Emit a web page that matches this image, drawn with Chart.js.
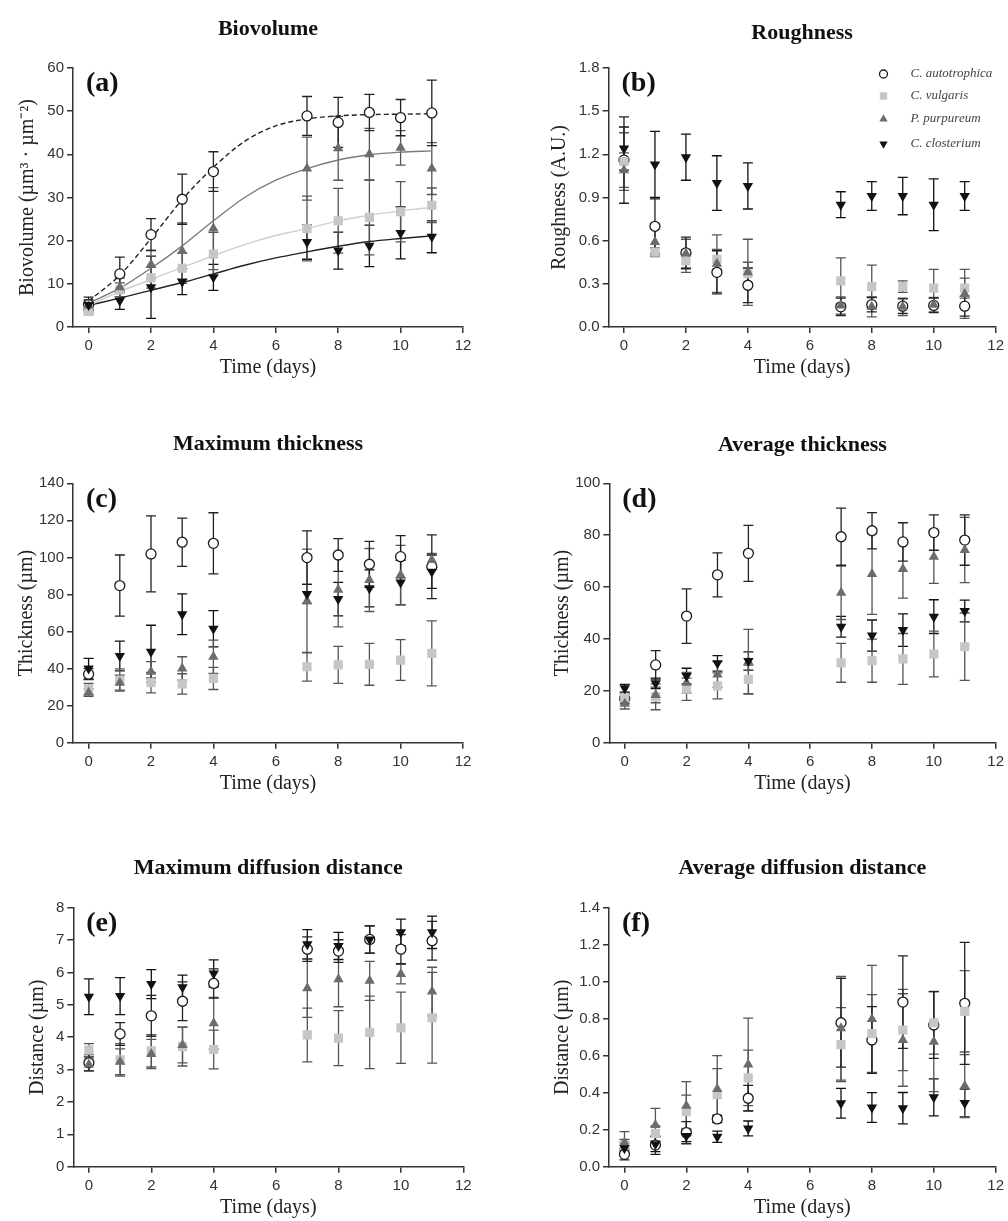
<!DOCTYPE html>
<html><head><meta charset="utf-8">
<script src="https://cdn.jsdelivr.net/npm/chart.js@4.4.1/dist/chart.umd.min.js"></script>
<style>
html,body{margin:0;padding:0;background:#fff;width:1008px;height:1221px;overflow:hidden}
canvas{position:absolute;display:block}
</style></head><body>
<canvas id="pa" width="504" height="400" style="left:0px;top:0px"></canvas>
<canvas id="pb" width="504" height="400" style="left:504px;top:0px"></canvas>
<canvas id="pc" width="504" height="420" style="left:0px;top:400px"></canvas>
<canvas id="pd" width="504" height="420" style="left:504px;top:400px"></canvas>
<canvas id="pe" width="504" height="401" style="left:0px;top:820px"></canvas>
<canvas id="pf" width="504" height="401" style="left:504px;top:820px"></canvas>
<script>
// ---------- data ----------
const days = [0, 1, 2, 3, 4, 7, 8, 9, 10, 11];
const fitDays = [0, 1, 2, 3, 4, 5, 6, 7, 8, 9, 10, 11];
const species = ['C. autotrophica', 'C. vulgaris', 'P. purpureum', 'C. closterium'];
const xTicks = [0, 2, 4, 6, 8, 10, 12];

// (a) Biovolume
const bioAuto = [5.2, 12.3, 21.4, 29.6, 36.0, 48.9, 47.4, 49.7, 48.5, 49.6];
const bioAutoErr = [1.7, 3.9, 3.7, 5.8, 4.6, 4.5, 5.8, 4.2, 4.2, 7.6];
const bioVulg = [3.6, 8.6, 11.4, 13.6, 16.9, 22.8, 24.6, 25.4, 26.7, 28.2];
const bioVulgErr = [0.6, 1.6, 2.4, 3.5, 5.0, 7.5, 7.5, 8.7, 7.0, 4.0];
const bioPurp = [5.0, 9.2, 14.5, 17.6, 22.8, 36.7, 41.4, 40.0, 41.5, 36.7];
const bioPurpErr = [1.0, 2.2, 3.3, 6.5, 9.5, 7.3, 7.4, 6.0, 4.0, 6.0];
const bioClos = [5.1, 6.1, 9.2, 10.5, 11.5, 19.7, 17.7, 18.8, 21.8, 20.9];
const bioClosErr = [1.2, 2.0, 7.2, 3.0, 3.0, 4.0, 4.3, 4.8, 6.0, 3.7];
// fitted curves of (a) at whole days
const fitAuto = [6.0, 12.0, 20.5, 29.5, 37.0, 43.0, 46.6, 48.2, 48.9, 49.2, 49.3, 49.4];
const fitVulg = [5.0, 8.2, 11.0, 13.8, 16.5, 19.1, 21.2, 22.8, 24.6, 25.9, 26.9, 27.7];
const fitPurp = [5.5, 9.0, 13.6, 18.8, 24.6, 30.0, 34.0, 36.7, 38.7, 39.9, 40.5, 40.8];
const fitClos = [5.0, 6.7, 8.5, 10.3, 12.3, 14.3, 16.0, 17.4, 18.7, 19.8, 20.5, 21.1];
const yTicksA = [0, 10, 20, 30, 40, 50, 60];

// (b) Roughness
const rouAuto = [1.16, 0.70, 0.515, 0.38, 0.29, 0.14, 0.155, 0.145, 0.15, 0.145];
const rouAutoErr = [0.3, 0.19, 0.11, 0.15, 0.12, 0.06, 0.05, 0.05, 0.05, 0.07];
const rouVulg = [1.15, 0.52, 0.46, 0.47, 0.37, 0.32, 0.28, 0.28, 0.27, 0.27];
const rouVulgErr = [0.2, 0.03, 0.08, 0.07, 0.08, 0.16, 0.15, 0.04, 0.13, 0.07];
const rouPurp = [1.09, 0.59, 0.51, 0.44, 0.38, 0.15, 0.14, 0.14, 0.155, 0.23];
const rouPurpErr = [0.12, 0.09, 0.1, 0.2, 0.23, 0.06, 0.07, 0.06, 0.05, 0.17];
const rouClos = [1.24, 1.13, 1.18, 1.0, 0.98, 0.85, 0.91, 0.91, 0.85, 0.91];
const rouClosErr = [0.15, 0.23, 0.16, 0.19, 0.16, 0.09, 0.1, 0.13, 0.18, 0.1];
const yTicksB = [0, 0.3, 0.6, 0.9, 1.2, 1.5, 1.8];

// (c) Maximum thickness
const maxAuto = [37, 84.8, 101.9, 108.2, 107.6, 99.9, 101.3, 96.3, 100.4, 95];
const maxAutoErr = [3, 16.5, 20.5, 13, 16.5, 14.4, 8.8, 12.4, 11.4, 17.2];
const maxVulg = [29, 33.8, 32.4, 31.7, 34.7, 41, 42, 42.3, 44.6, 48.2];
const maxVulgErr = [3, 6, 5.5, 5.5, 6, 7.8, 10, 11.3, 11, 17.5];
const maxPurp = [27, 32.4, 38.3, 40.1, 46.4, 76.5, 82.5, 87.8, 90.5, 98.6];
const maxPurpErr = [2, 4, 5.5, 6.3, 9, 28, 20, 17, 16, 3.5];
const maxClos = [40, 46.8, 49.1, 69.3, 61.5, 80.3, 77.5, 83.3, 86.4, 92.3];
const maxClosErr = [5.5, 8, 14.3, 11, 9.8, 5.2, 9, 10, 12, 9];
const yTicksC = [0, 20, 40, 60, 80, 100, 120, 140];

// (d) Average thickness
const avgAuto = [17, 30, 48.8, 64.7, 73, 79.4, 81.7, 77.4, 81, 78.1];
const avgAutoErr = [2, 5.5, 10.5, 8.5, 10.8, 11, 7, 7.4, 6.8, 9.7];
const avgVulg = [17.4, 17.7, 20.6, 21.9, 24.4, 30.8, 31.6, 32.3, 34.2, 37];
const avgVulgErr = [1.5, 5, 4.3, 5, 5.5, 7.5, 8.3, 9.8, 8.8, 13];
const avgPurp = [15, 18.4, 23.1, 26.3, 31.2, 57.8, 65, 67, 71.7, 74.3];
const avgPurpErr = [2, 3, 4, 5, 12.5, 10.3, 15.5, 11.3, 10.3, 12.6];
const avgClos = [21, 22.9, 25.7, 30.6, 31.5, 44.7, 41.3, 43.4, 48.6, 50.8];
const avgClosErr = [1.5, 2, 3, 3, 3.5, 4, 6, 6.3, 6.5, 4.2];
const yTicksD = [0, 20, 40, 60, 80, 100];

// (e) Maximum diffusion distance
const mddAuto = [3.21, 4.1, 4.66, 5.11, 5.66, 6.72, 6.66, 7.02, 6.72, 6.98];
const mddAutoErr = [0.25, 0.35, 0.63, 0.6, 0.45, 0.38, 0.35, 0.42, 0.45, 0.6];
const mddVulg = [3.6, 3.3, 3.58, 3.71, 3.62, 4.07, 3.97, 4.15, 4.29, 4.6];
const mddVulgErr = [0.2, 0.5, 0.5, 0.6, 0.6, 0.83, 0.85, 1.12, 1.1, 1.4];
const mddPurp = [3.16, 3.24, 3.48, 3.76, 4.43, 5.51, 5.79, 5.74, 5.95, 5.41];
const mddPurpErr = [0.2, 0.4, 0.45, 0.55, 0.8, 0.9, 0.85, 0.6, 0.3, 0.75];
const mddClos = [5.25, 5.27, 5.64, 5.54, 5.97, 6.87, 6.82, 7.02, 7.24, 7.24];
const mddClosErr = [0.55, 0.57, 0.45, 0.38, 0.42, 0.45, 0.42, 0.42, 0.41, 0.5];
const yTicksE = [0, 1, 2, 3, 4, 5, 6, 7, 8];

// (f) Average diffusion distance
const addAuto = [0.067, 0.117, 0.184, 0.258, 0.37, 0.778, 0.685, 0.89, 0.766, 0.883];
const addAutoErr = [0.03, 0.05, 0.06, 0.02, 0.07, 0.24, 0.18, 0.25, 0.18, 0.33];
const addVulg = [0.117, 0.18, 0.297, 0.39, 0.48, 0.66, 0.72, 0.739, 0.778, 0.84];
const addVulgErr = [0.03, 0.04, 0.09, 0.14, 0.15, 0.2, 0.21, 0.22, 0.17, 0.22];
const addPurp = [0.13, 0.225, 0.33, 0.42, 0.553, 0.748, 0.798, 0.685, 0.676, 0.436];
const addPurpErr = [0.06, 0.09, 0.13, 0.18, 0.25, 0.28, 0.29, 0.25, 0.27, 0.17];
const addClos = [0.1, 0.122, 0.166, 0.162, 0.207, 0.343, 0.32, 0.316, 0.375, 0.344];
const addClosErr = [0.03, 0.04, 0.03, 0.03, 0.04, 0.08, 0.08, 0.085, 0.1, 0.075];
const yTicksF = [0, 0.2, 0.4, 0.6, 0.8, 1.0, 1.2, 1.4];

// ---------- styles ----------
const SERIF = '"Liberation Serif", "Times New Roman", serif';
const SANS = '"Liberation Sans", Arial, sans-serif';
const AX = '#333';
const markStyles = [
  {pointStyle: 'circle', radius: 5, bg: '#ffffff', border: '#1a1a1a', rot: 0, bw: 1.3, err: '#222', line: '#222', dash: [5, 3]},
  {pointStyle: 'rect', radius: 6.5, bg: '#c6c6c6', border: '#c6c6c6', rot: 0, bw: 0, err: '#555', line: '#cfcfcf', dash: []},
  {pointStyle: 'triangle', radius: 6, bg: '#6c6c6c', border: '#6c6c6c', rot: 0, bw: 0, err: '#555', line: '#7a7a7a', dash: []},
  {pointStyle: 'triangle', radius: 6, bg: '#111111', border: '#111111', rot: 180, bw: 0, err: '#111', line: '#222', dash: []}
];

// ---------- plugins ----------
const errorBars = {
  id: 'errorBars',
  beforeDatasetsDraw(chart) {
    const {ctx} = chart;
    const xs = chart.scales.x, ys = chart.scales.y;
    chart.data.datasets.forEach(ds => {
      if (!ds.errors) return;
      ctx.save();
      ctx.strokeStyle = ds.errColor;
      ctx.lineWidth = 1.3;
      ds.data.forEach((p, j) => {
        const e = ds.errors[j];
        const px = xs.getPixelForValue(p.x);
        const yt = ys.getPixelForValue(p.y + e);
        const yb = ys.getPixelForValue(Math.max(p.y - e, ys.min));
        ctx.beginPath();
        ctx.moveTo(px, yt); ctx.lineTo(px, yb);
        ctx.moveTo(px - 5, yt); ctx.lineTo(px + 5, yt);
        ctx.moveTo(px - 5, yb); ctx.lineTo(px + 5, yb);
        ctx.stroke();
      });
      ctx.restore();
    });
  }
};

const panelLetter = {
  id: 'panelLetter',
  afterDraw(chart, args, opts) {
    const {ctx, chartArea} = chart;
    ctx.save();
    ctx.font = 'bold 28px ' + SERIF;
    ctx.fillStyle = '#111';
    ctx.textAlign = 'left';
    ctx.textBaseline = 'middle';
    ctx.fillText(opts.text || '', chartArea.left + 13, chartArea.top + 16);
    ctx.restore();
  }
};

function drawMarker(ctx, st, x, y) {
  ctx.save();
  ctx.fillStyle = st.bg; ctx.strokeStyle = st.border; ctx.lineWidth = st.bw || 1;
  ctx.beginPath();
  if (st.pointStyle === 'circle') {
    ctx.arc(x, y, st.radius, 0, Math.PI * 2);
    ctx.fill(); ctx.stroke();
  } else if (st.pointStyle === 'rect') {
    const s = st.radius * Math.SQRT1_2;
    ctx.rect(x - s, y - s, 2 * s, 2 * s); ctx.fill();
  } else {
    const r = st.radius, sgn = st.rot ? -1 : 1;
    ctx.moveTo(x, y - sgn * r);
    ctx.lineTo(x + r * 0.866, y + sgn * r / 2);
    ctx.lineTo(x - r * 0.866, y + sgn * r / 2);
    ctx.closePath(); ctx.fill();
  }
  ctx.restore();
}

const insideLegend = {
  id: 'insideLegend',
  afterDraw(chart, args, opts) {
    if (!opts.show) return;
    const {ctx, chartArea} = chart;
    const rows = [6, 28, 51, 76];
    species.forEach((name, i) => {
      const y = chartArea.top + rows[i];
      drawMarker(ctx, Object.assign({}, markStyles[i], {radius: markStyles[i].radius * 0.8}), chartArea.left + 275, y);
      ctx.save();
      ctx.font = 'italic 13px ' + SERIF;
      ctx.fillStyle = '#444';
      ctx.textAlign = 'left';
      ctx.textBaseline = 'middle';
      ctx.fillText(name, chartArea.left + 302, y);
      ctx.restore();
    });
  }
};

// ---------- chart builder ----------
function makePanel(cfg) {
  const series = cfg.series;
  const datasets = [];
  // draw order: last dataset first -> order markers so closterium ends on top
  [3, 2, 1, 0].forEach(i => {
    const st = markStyles[i];
    datasets.push({
      label: species[i],
      data: days.map((d, j) => ({x: d, y: series[i][0][j]})),
      errors: series[i][1],
      errColor: st.err,
      showLine: false,
      pointStyle: st.pointStyle,
      pointRadius: st.radius,
      pointRotation: st.rot,
      pointBackgroundColor: st.bg,
      pointBorderColor: st.border,
      pointBorderWidth: st.bw
    });
  });
  if (cfg.fits) {
    cfg.fits.forEach((f, i) => {
      const st = markStyles[i];
      datasets.push({
        label: species[i] + ' fit',
        data: fitDays.map((d, j) => ({x: d, y: f[j]})),
        showLine: true,
        cubicInterpolationMode: 'monotone',
        borderColor: st.line,
        borderWidth: 1.4,
        borderDash: st.dash,
        pointRadius: 0,
        fill: false
      });
    });
  }
  const yT = cfg.yTicks;
  return new Chart(document.getElementById(cfg.id), {
    type: 'scatter',
    data: {datasets},
    plugins: [errorBars, panelLetter, insideLegend],
    options: {
      responsive: false,
      animation: false,
      devicePixelRatio: 1,
      events: [],
      layout: {padding: {left: 0, top: 0, right: cfg.padR, bottom: cfg.padB}},
      plugins: {
        legend: {display: false},
        tooltip: {enabled: false},
        title: {
          display: true, text: cfg.title, fullSize: false, color: '#111',
          font: {family: SERIF, size: 22, weight: 'bold', lineHeight: 1.2},
          padding: {top: cfg.titleY - 13.2, bottom: cfg.T - cfg.titleY - 13.2}
        },
        panelLetter: {text: cfg.letter},
        insideLegend: {show: !!cfg.legend}
      },
      scales: {
        x: {
          type: 'linear', position: 'bottom', min: -0.5, max: 12,
          afterBuildTicks: s => { s.ticks = xTicks.map(v => ({value: v})); },
          afterFit: s => { s.height = 53; },
          grid: {display: true, drawOnChartArea: false, drawTicks: true, tickLength: 6, color: AX, lineWidth: 1.5},
          border: {display: true, color: AX, width: 1.5},
          ticks: {font: {family: SANS, size: 15}, color: '#333', padding: 4, maxRotation: 0, autoSkip: false},
          title: {display: true, text: 'Time (days)', color: '#222', font: {family: SERIF, size: 20, lineHeight: 1.2}, padding: {top: 0, bottom: 0}}
        },
        y: {
          type: 'linear', position: 'left', min: 0, max: yT[yT.length - 1],
          afterBuildTicks: s => { s.ticks = yT.map(v => ({value: v})); },
          afterFit: s => { s.width = cfg.L; },
          grid: {display: true, drawOnChartArea: false, drawTicks: true, tickLength: 6, color: AX, lineWidth: 1.5},
          border: {display: true, color: AX, width: 1.5},
          ticks: {
            font: {family: SANS, size: 15}, color: '#333', padding: 3, autoSkip: false,
            callback: v => cfg.dec ? Number(v).toFixed(cfg.dec) : String(v)
          },
          title: {display: true, text: cfg.yTitle, color: '#222', font: {family: SERIF, size: 20, lineHeight: 1.2}, padding: {top: cfg.yTitleX - 12, bottom: 0}}
        }
      }
    }
  });
}

makePanel({id: 'pa', title: 'Biovolume', letter: '(a)', titleY: 29, T: 68, L: 73, padR: 41, padB: 20, yTitleX: 28,
  yTitle: 'Biovolume (µm³ · µm⁻²)', yTicks: yTicksA, dec: 0,
  series: [[bioAuto, bioAutoErr], [bioVulg, bioVulgErr], [bioPurp, bioPurpErr], [bioClos, bioClosErr]],
  fits: [fitAuto, fitVulg, fitPurp, fitClos]});
makePanel({id: 'pb', title: 'Roughness', letter: '(b)', titleY: 33, T: 68, L: 104.5, padR: 12, padB: 20, yTitleX: 56,
  yTitle: 'Roughness (A.U.)', yTicks: yTicksB, dec: 1, legend: true,
  series: [[rouAuto, rouAutoErr], [rouVulg, rouVulgErr], [rouPurp, rouPurpErr], [rouClos, rouClosErr]]});
makePanel({id: 'pc', title: 'Maximum thickness', letter: '(c)', titleY: 44, T: 83.3, L: 73, padR: 41, padB: 24.3, yTitleX: 27,
  yTitle: 'Thickness (µm)', yTicks: yTicksC, dec: 0,
  series: [[maxAuto, maxAutoErr], [maxVulg, maxVulgErr], [maxPurp, maxPurpErr], [maxClos, maxClosErr]]});
makePanel({id: 'pd', title: 'Average thickness', letter: '(d)', titleY: 45, T: 83.3, L: 105.3, padR: 9, padB: 24.3, yTitleX: 59,
  yTitle: 'Thickness (µm)', yTicks: yTicksD, dec: 0,
  series: [[avgAuto, avgAutoErr], [avgVulg, avgVulgErr], [avgPurp, avgPurpErr], [avgClos, avgClosErr]]});
makePanel({id: 'pe', title: 'Maximum diffusion distance', letter: '(e)', titleY: 48, T: 87.7, L: 73.3, padR: 40.7, padB: 1.3, yTitleX: 38,
  yTitle: 'Distance (µm)', yTicks: yTicksE, dec: 0,
  series: [[mddAuto, mddAutoErr], [mddVulg, mddVulgErr], [mddPurp, mddPurpErr], [mddClos, mddClosErr]]});
makePanel({id: 'pf', title: 'Average diffusion distance', letter: '(f)', titleY: 48, T: 87.7, L: 105, padR: 10.7, padB: 1.3, yTitleX: 59,
  yTitle: 'Distance (µm)', yTicks: yTicksF, dec: 1,
  series: [[addAuto, addAutoErr], [addVulg, addVulgErr], [addPurp, addPurpErr], [addClos, addClosErr]]});
</script>
</body></html>
